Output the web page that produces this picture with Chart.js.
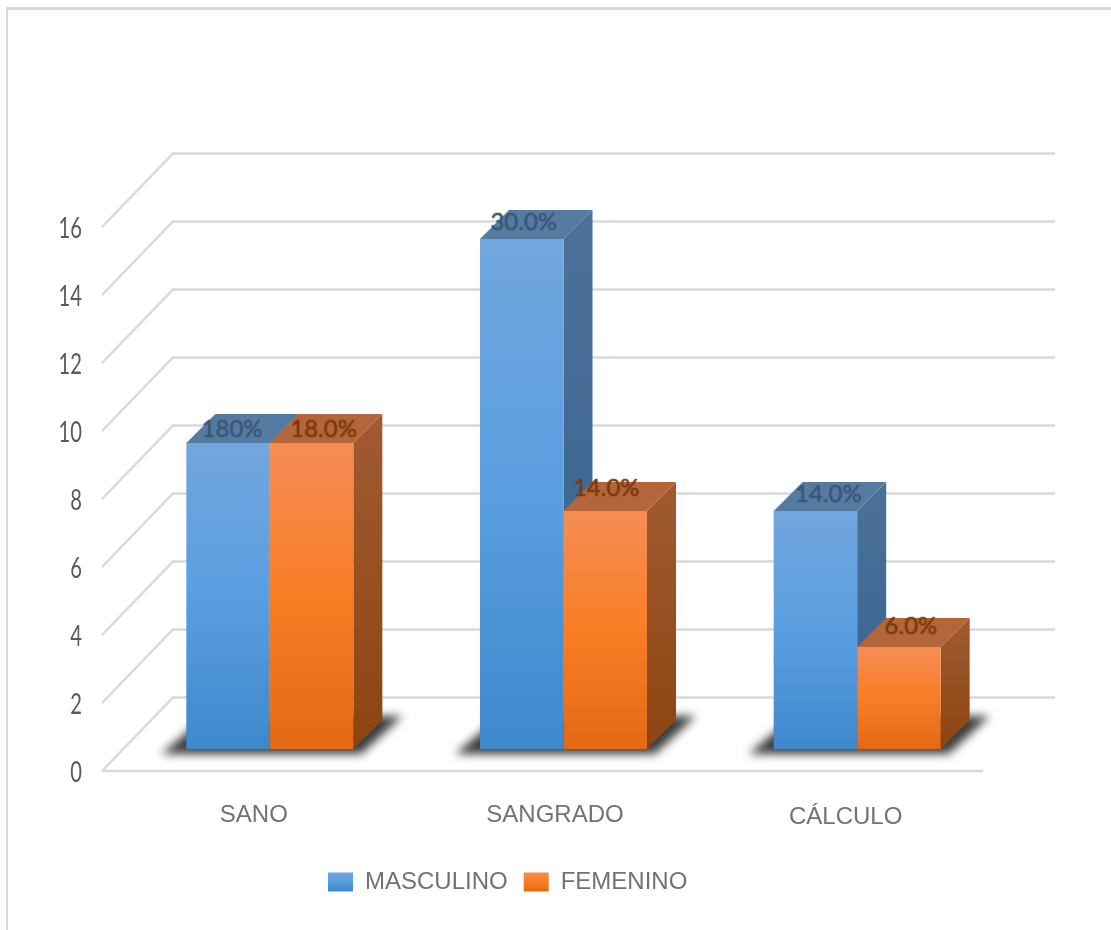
<!DOCTYPE html>
<html lang="es">
<head>
    <meta charset="UTF-8">
    <title>Masculino / Femenino</title>
    <script src="https://cdn.jsdelivr.net/npm/chart.js@4/dist/chart.umd.min.js"></script>
    <style>
        html, body { margin: 0; background: #fff; }
        #frame { position: absolute; left: 6px; top: 7px; right: 0; bottom: 0; border-top: 3px solid #d9d9d9; border-left: 2px solid #d9d9d9; }
        #chartCanvas { position: absolute; left: 0; top: 0; }
    </style>
</head>
<body>
<div id="frame"></div>
<canvas id="chartCanvas" width="1111" height="930"></canvas>

<script>
    const categories = ['SANO', 'SANGRADO', 'CÁLCULO'];
    const masculino = [9, 15, 7];
    const femenino = [9, 7, 3];
    const masculinoLabels = ['180%', '30.0%', '14.0%'];
    const femeninoLabels = ['18.0%', '14.0%', '6.0%'];
    const yTicks = [0, 2, 4, 6, 8, 10, 12, 14, 16];

    // look of the fake 3D box
    const depth = 29;
    const wallX = 71, wallY = 73.5, wallRight = 1055;
    const barShiftX = 21, barShiftY = -22;
    const gridColor = '#d9d9d9';
    const textColor = '#767171';
    const labelFont = '24px Lato';

    const blue = { front: ['#72a6de', '#5a9ee0', '#3f88cc'], side: ['#4d7199', '#32628f'], top: '#567ba3', text: '#3d5674' };
    const orange = { front: ['#f58d55', '#f97d25', '#e36914'], side: ['#a15b32', '#8c4410'], top: '#b4653b', text: '#7b3a0f' };
    const looks = [blue, orange];

    // nudges for the hand placed texts of the original
    const labelShift = [[[4, -14], [2, -17], [13, -17]], [[12, -14], [1, -23], [12, -21]]];
    const catShift = [[5, 44], [12.5, 44], [9.5, 46]];

    function frontGradient(ctx, look, top, bottom) {
        const g = ctx.createLinearGradient(0, top, 0, bottom);
        g.addColorStop(0, look.front[0]);
        g.addColorStop(0.5, look.front[1]);
        g.addColorStop(1, look.front[2]);
        return g;
    }

    function barFill(look) {
        return function (c) {
            if (!c.parsed) return look.front[1];
            const y = c.chart.scales.y;
            return frontGradient(c.chart.ctx, look, y.getPixelForValue(c.parsed.y), y.getPixelForValue(0));
        };
    }

    function poly(ctx, pts, fill) {
        ctx.beginPath();
        pts.forEach(function (p, i) { i ? ctx.lineTo(p[0], p[1]) : ctx.moveTo(p[0], p[1]); });
        ctx.closePath();
        ctx.fillStyle = fill;
        ctx.fill();
    }

    const box3d = {
        id: 'box3d',
        afterLayout(chart) {
            chart.legend.left = 312;
            chart.legend.right = 1000;
            chart.legend.top = 854;
            chart.legend.bottom = 925;
        },
        beforeDatasetsDraw(chart) {
            const ctx = chart.ctx;
            const y = chart.scales.y, x = chart.scales.x;
            const area = chart.chartArea;

            // walls and floor
            ctx.save();
            ctx.strokeStyle = gridColor;
            ctx.lineWidth = 2.5;
            yTicks.forEach(function (v) {
                const p = y.getPixelForValue(v);
                ctx.beginPath();
                ctx.moveTo(area.left, p);
                ctx.lineTo(area.left + wallX, p - wallY);
                ctx.lineTo(wallRight, p - wallY);
                ctx.stroke();
            });
            const p0 = y.getPixelForValue(0);
            ctx.beginPath();
            ctx.moveTo(area.left, p0);
            ctx.lineTo(area.right, p0);
            ctx.stroke();
            ctx.restore();

            // value axis numbers, squeezed like the original narrow font
            ctx.save();
            ctx.font = '28px Lato';
            ctx.fillStyle = '#5a5a5a';
            ctx.textAlign = 'right';
            ctx.textBaseline = 'middle';
            yTicks.forEach(function (v) {
                ctx.save();
                ctx.translate(82, y.getPixelForValue(v) + 2);
                ctx.scale(0.72, 1);
                ctx.fillText(String(v), 0, 0);
                ctx.restore();
            });
            ctx.restore();

            // category names
            ctx.save();
            ctx.font = '24px "Liberation Sans"';
            ctx.fillStyle = textColor;
            ctx.textAlign = 'center';
            ctx.textBaseline = 'middle';
            categories.forEach(function (c, i) {
                ctx.fillText(c, x.getPixelForTick(i) + catShift[i][0], p0 + catShift[i][1]);
            });
            ctx.restore();

            ctx.save();
            ctx.translate(barShiftX, barShiftY);

            // floor shadows
            categories.forEach(function (c, i) {
                const a = chart.getDatasetMeta(0).data[i], b = chart.getDatasetMeta(1).data[i];
                const l = a.x - a.width / 2, r = b.x + b.width / 2, base = a.base;
                ctx.save();
                ctx.filter = 'blur(5px)';
                poly(ctx, [[l - 25, base + 5], [r + 8, base + 5], [r + 49, base - 33], [l + 20, base - 33]], '#3c3c3c');
                ctx.restore();
            });

            // side and top faces, back to front
            categories.forEach(function (c, i) {
                [0, 1].forEach(function (d) {
                    const bar = chart.getDatasetMeta(d).data[i], look = looks[d];
                    const l = bar.x - bar.width / 2, r = bar.x + bar.width / 2;
                    const g = ctx.createLinearGradient(0, bar.y - depth, 0, bar.base);
                    g.addColorStop(0, look.side[0]);
                    g.addColorStop(1, look.side[1]);
                    poly(ctx, [[r, bar.y], [r + depth, bar.y - depth], [r + depth, bar.base - depth], [r, bar.base]], g);
                    poly(ctx, [[l, bar.y], [l + depth, bar.y - depth], [r + depth, bar.y - depth], [r, bar.y]], look.top);
                });
            });
        },
        afterDatasetsDraw(chart) {
            const ctx = chart.ctx;
            // value labels sit on the top faces
            ctx.font = labelFont;
            ctx.textAlign = 'center';
            ctx.textBaseline = 'middle';
            ctx.shadowBlur = 2;
            [masculinoLabels, femeninoLabels].forEach(function (texts, d) {
                texts.forEach(function (t, i) {
                    const bar = chart.getDatasetMeta(d).data[i];
                    ctx.fillStyle = looks[d].text;
                    ctx.shadowColor = looks[d].text;
                    ctx.fillText(t, bar.x + labelShift[d][i][0], bar.y + labelShift[d][i][1]);
                });
            });
            ctx.restore();
        }
    };

    const chartCtx = document.getElementById('chartCanvas').getContext('2d');
    const myChart = new Chart(chartCtx, {
        type: 'bar',
        data: {
            labels: categories,
            datasets: [
                { label: 'MASCULINO', data: masculino, backgroundColor: barFill(blue), categoryPercentage: 0.5687, barPercentage: 1 },
                { label: 'FEMENINO', data: femenino, backgroundColor: barFill(orange), categoryPercentage: 0.5687, barPercentage: 1 }
            ]
        },
        options: {
            responsive: false,
            animation: false,
            events: [],
            layout: { padding: { left: 0, top: 227, right: 128, bottom: 101 } },
            scales: {
                x: {
                    ticks: { display: false },
                    grid: { display: false },
                    border: { display: false }
                },
                y: {
                    min: 0,
                    max: 16,
                    afterFit(s) { s.width = 102; },
                    afterBuildTicks(s) { s.ticks = yTicks.map(function (v) { return { value: v }; }); },
                    ticks: { display: false },
                    grid: { display: false, drawTicks: false },
                    border: { display: false }
                }
            },
            plugins: {
                tooltip: { enabled: false },
                legend: {
                    position: 'bottom',
                    align: 'start',
                    labels: {
                        boxWidth: 25,
                        boxHeight: 19,
                        padding: 16,
                        font: { family: '"Liberation Sans"', size: 24 },
                        generateLabels(chart) {
                            return chart.data.datasets.map(function (ds, i) {
                                return {
                                    text: ds.label,
                                    fillStyle: frontGradient(chart.ctx, looks[i], 872, 891),
                                    fontColor: textColor,
                                    lineWidth: 0,
                                    strokeStyle: 'transparent',
                                    datasetIndex: i
                                };
                            });
                        }
                    }
                }
            }
        },
        plugins: [box3d]
    });
</script>
</body>
</html>
